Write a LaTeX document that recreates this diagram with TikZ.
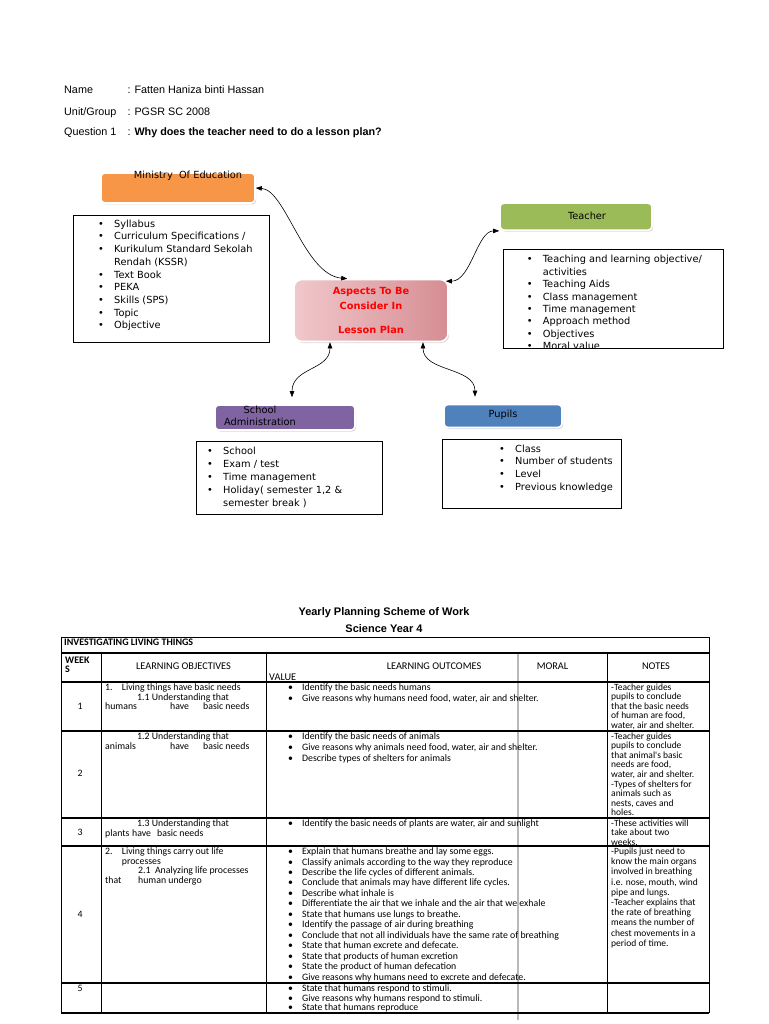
\documentclass[tikz,border=0pt]{standalone}
\usepackage{fontspec}
\setmainfont{Liberation Sans}
\newfontfamily\dejavu{DejaVu Sans}
\newfontfamily\carlito{Carlito}
\usetikzlibrary{arrows.meta,positioning,shadows}
\definecolor{moeorange}{HTML}{F79646}
\definecolor{teachgreen}{HTML}{9BBB59}
\definecolor{adminpurple}{HTML}{8064A2}
\definecolor{pupilblue}{HTML}{4F81BD}
\definecolor{aspectlight}{HTML}{F0C8CB}
\definecolor{aspectdark}{HTML}{D68D93}
\definecolor{aspectred}{HTML}{FF0000}
\setlength{\lineskiplimit}{-20pt}
\newcommand{\bul}{\makebox[16pt][l]{\textbullet}}
\newcommand{\tbul}{\makebox[14pt][l]{\textbullet}}
\newcommand{\cont}{\hspace*{16pt}}

\begin{document}
\begin{tikzpicture}[x=1pt,y=-1pt,
	headtext/.style={font=\fontsize{10.8}{13}\selectfont,anchor=base west,inner sep=0pt},
	catbox/.style={rounded corners=4pt,draw=white,line width=1.6pt,drop shadow={shadow xshift=1.2pt,shadow yshift=-1.5pt,opacity=.3}},
	cattext/.style={font=\dejavu\fontsize{9.8}{12.3}\selectfont,inner sep=0pt,align=center},
	listbox/.style={draw=black,line width=0.8pt,fill=white,anchor=north west,inner sep=0pt},
	listtext/.style={font=\dejavu\fontsize{9.8}{12.7}\selectfont,align=left,anchor=north west,inner sep=0pt},
	link/.style={line width=0.6pt,>={Triangle[length=6pt,width=4.5pt]},<->},
	cell/.style={font=\carlito\fontsize{9.8}{10.3}\selectfont,align=left,anchor=north west,inner sep=0pt},
	notecell/.style={font=\carlito\fontsize{9.5}{9.6}\selectfont,align=left,anchor=north west,inner sep=0pt},
	caps/.style={font=\carlito\fontsize{10.3}{12}\selectfont,anchor=base,inner sep=0pt},
	weeknum/.style={font=\carlito\fontsize{9.8}{12}\selectfont,anchor=base,inner sep=0pt},
	rule/.style={line width=1.4pt}]

	\fill[white] (0,0) rectangle (768,1024);
	\useasboundingbox (0,0) rectangle (768,1024);

	\node[headtext] (name) at (64,93.5) {Name};
	\node[headtext] (namev) at (127.3,93.5) {: Fatten Haniza binti Hassan};
	\node[headtext] (unit) at (64,115.1) {Unit/Group};
	\node[headtext] (unitv) at (127.3,115.1) {: PGSR SC 2008};
	\node[headtext] (quest) at (64,135.5) {Question 1};
	\node[headtext] (questv) at (127.3,135.5) {: \textbf{Why does the teacher need to do a lesson plan?}};

	\node[catbox,fill=moeorange,minimum width=154pt,minimum height=30pt] (moe) at (178,188) {};
	\node[cattext] (moetext) at (188,176) {Ministry\ \ Of Education};
	\node[catbox,fill=teachgreen,minimum width=152pt,minimum height=27pt] (teacher) at (576,216.6) {};
	\node[cattext] (teachertext) at (587,216) {Teacher};
	\node[catbox,fill=adminpurple,minimum width=140pt,minimum height=25pt] (sa) at (285,417.5) {};
	\node[cattext] (satext) at (260,415.8) {School\\Administration};
	\node[catbox,fill=pupilblue,minimum width=118pt,minimum height=23pt] (pu) at (503,416) {};
	\node[cattext] (putext) at (503,415) {Pupils};
	\node[rounded corners=8pt,left color=aspectlight,right color=aspectdark,draw=white,line width=1.6pt,
		drop shadow={shadow xshift=1.2pt,shadow yshift=-1.5pt,opacity=.3},minimum width=154pt,minimum height=62pt,
		font=\dejavu\bfseries\fontsize{9.8}{15}\selectfont,text=aspectred,align=center] (aspects) at (371,310.5)
		{Aspects To Be\\Consider In\\[8.6pt]Lesson Plan};

	\node[listbox,minimum width=196pt,minimum height=126.7pt] (mlist) at (73,215) {};
	\node[listtext] (mlisttext) at (98,219.6) {\bul Syllabus\\ \bul Curriculum Specifications /\\ \bul Kurikulum Standard Sekolah\\ \cont Rendah (KSSR)\\ \bul Text Book\\ \bul PEKA\\ \bul Skills (SPS)\\ \bul Topic\\ \bul Objective};
	\node[listbox,minimum width=220pt,minimum height=98.7pt] (tlist) at (503.3,249.3) {};
	\begin{scope}
		\clip (tlist.north west) rectangle ([yshift=0.4pt]tlist.south east);
		\node[listtext,font=\dejavu\fontsize{9.8}{12.4}\selectfont] (tlisttext) at (526.7,255.3) {\bul Teaching and learning objective/\\ \cont activities\\ \bul Teaching Aids\\ \bul Class management\\ \bul Time management\\ \bul Approach method\\ \bul Objectives\\ \bul Moral value};
	\end{scope}
	\node[listbox,minimum width=186pt,minimum height=73pt] (slist) at (196,441) {};
	\node[listtext,font=\dejavu\fontsize{9.8}{12.9}\selectfont] (slisttext) at (207,447) {\bul School\\ \bul Exam / test\\ \bul Time management\\ \bul Holiday( semester 1,2 \&\\ \cont semester break )};
	\node[listbox,minimum width=179.3pt,minimum height=69pt] (plist) at (441.7,439.3) {};
	\node[listtext] (plisttext) at (499,444.6) {\bul Class\\ \bul Number of students\\ \bul Level\\ \bul Previous knowledge};

	\draw[link] (moe.east) .. controls +(30,2) and +(-43,-4) .. ([xshift=54pt]aspects.north west);
	\draw[link] ([xshift=-3pt,yshift=-2.5pt]aspects.north east) .. controls +(25,0) and +(-22,0) .. (teacher.south west);
	\draw[link] ([xshift=-41pt]aspects.south) .. controls +(0,28) and +(0,-30) .. ([xshift=7pt,yshift=7pt]sa.north);
	\draw[link] ([xshift=52pt]aspects.south) .. controls +(0,30) and +(0,-30) .. ([xshift=-28pt,yshift=7pt]pu.north);

	\node[font=\bfseries\fontsize{11}{13}\selectfont] (title) at (384,613) {Yearly Planning Scheme of Work};
	\node[font=\bfseries\fontsize{11}{13}\selectfont] (subtitle) at (384,628.5) {Science Year 4};

	\draw[gray!55,line width=1.2pt] (518,653) -- (518,1020);
	\draw[line width=0.8pt] (61,637) -- (709,637);
	\draw[line width=0.8pt] (61,637) -- (61,1013) (709,637) -- (709,1013);
	\draw[line width=0.8pt] (101,653) -- (101,1013) (266,653) -- (266,1013) (607,653) -- (607,1013);
	\draw[rule] (61,653) -- (709,653);
	\draw[rule] (61,682) -- (709,682);
	\draw[rule] (61,731) -- (709,731);
	\draw[line width=1.1pt] (61,818) -- (709,818);
	\draw[rule] (61,846) -- (709,846);
	\draw[line width=1.1pt] (61,983) -- (709,983);
	\draw[line width=2.2pt] (61,1013) -- (709,1013);

	\node[caps,anchor=base west,font=\carlito\bfseries\fontsize{10}{12}\selectfont] (invest) at (64,645) {INVESTIGATING LIVING THINGS};
	\node[cell,font=\carlito\bfseries\fontsize{10}{9.7}\selectfont] (weekhead) at (65,656.5) {WEEK\\S};
	\node[caps] (lohead) at (183.5,669.4) {LEARNING OBJECTIVES};
	\node[caps] (louthead) at (434,669.4) {LEARNING OUTCOMES};
	\node[caps] (moralhead) at (552.5,669.4) {MORAL};
	\node[caps] (noteshead) at (656,669.4) {NOTES};
	\node[caps,anchor=base west] (valuehead) at (269,680) {VALUE};

	\node[weeknum] (w1) at (80,709.2) {1};
	\node[weeknum] (w2) at (80,776) {2};
	\node[weeknum] (w3) at (80,835) {3};
	\node[weeknum] (w4) at (80,917) {4};
	\node[weeknum] (w5) at (80,991) {5};

	\node[cell,font=\carlito\fontsize{9.8}{9.6}\selectfont] (obj1) at (105,683.6) {\makebox[16.7pt][l]{1.}Living things have basic needs\\ \hspace*{32pt}1.1 Understanding that\\ \makebox[65pt][l]{humans}\makebox[33pt][l]{have}basic needs};
	\node[cell,font=\carlito\fontsize{9.8}{9.6}\selectfont] (obj2) at (105,732.6) {\hspace*{32pt}1.2 Understanding that\\ \makebox[65pt][l]{animals}\makebox[33pt][l]{have}basic needs};
	\node[cell,font=\carlito\fontsize{9.8}{9.8}\selectfont] (obj3) at (105,819.3) {\hspace*{32pt}1.3 Understanding that\\ \makebox[27pt][l]{plants}\makebox[25pt][l]{have}basic needs};
	\node[cell,font=\carlito\fontsize{9.8}{9.6}\selectfont] (obj4) at (105,847.6) {\makebox[16.7pt][l]{2.}Living things carry out life\\ \hspace*{16.7pt}processes\\ \hspace*{33pt}2.1\ \ Analyzing life processes\\ \makebox[33pt][l]{that}human undergo};

	\node[cell,font=\carlito\fontsize{9.8}{11}\selectfont] (out1) at (288,683.6) {\tbul Identify the basic needs humans\\ \tbul Give reasons why humans need food, water, air and shelter.};
	\node[cell,font=\carlito\fontsize{9.8}{11}\selectfont] (out2) at (288,732.6) {\tbul Identify the basic needs of animals\\ \tbul Give reasons why animals need food, water, air and shelter.\\ \tbul Describe types of shelters for animals};
	\node[cell] (out3) at (288,819.5) {\tbul Identify the basic needs of plants are water, air and sunlight};
	\node[cell,font=\carlito\fontsize{9.8}{10.45}\selectfont] (out4) at (288,847.6) {\tbul Explain that humans breathe and lay some eggs.\\ \tbul Classify animals according to the way they reproduce\\ \tbul Describe the life cycles of different animals.\\ \tbul Conclude that animals may have different life cycles.\\ \tbul Describe what inhale is\\ \tbul Differentiate the air that we inhale and the air that we exhale\\ \tbul State that humans use lungs to breathe.\\ \tbul Identify the passage of air during breathing\\ \tbul Conclude that not all individuals have the same rate of breathing\\ \tbul State that human excrete and defecate.\\ \tbul State that products of human excretion\\ \tbul State the product of human defecation\\ \tbul Give reasons why humans need to excrete and defecate.};
	\node[cell,font=\carlito\fontsize{9.8}{9.6}\selectfont] (out5) at (288,984.6) {\tbul State that humans respond to stimuli.\\ \tbul Give reasons why humans respond to stimuli.\\ \tbul State that humans reproduce};

	\node[notecell] (note1) at (611,683.3) {-Teacher guides\\pupils to conclude\\that the basic needs\\of human are food,\\water, air and shelter.};
	\node[notecell] (note2) at (611,732.3) {-Teacher guides\\pupils to conclude\\that animal's basic\\needs are food,\\water, air and shelter.\\-Types of shelters for\\animals such as\\nests, caves and\\holes.};
	\node[notecell] (note3) at (611,819.5) {-These activities will\\take about two\\weeks.};
	\node[notecell,font=\carlito\fontsize{9.5}{10.2}\selectfont] (note4) at (611,847.6) {-Pupils just need to\\know the main organs\\involved in breathing\\i.e. nose, mouth, wind\\pipe and lungs.\\-Teacher explains that\\the rate of breathing\\means the number of\\chest movements in a\\period of time.};
\end{tikzpicture}
\end{document}
